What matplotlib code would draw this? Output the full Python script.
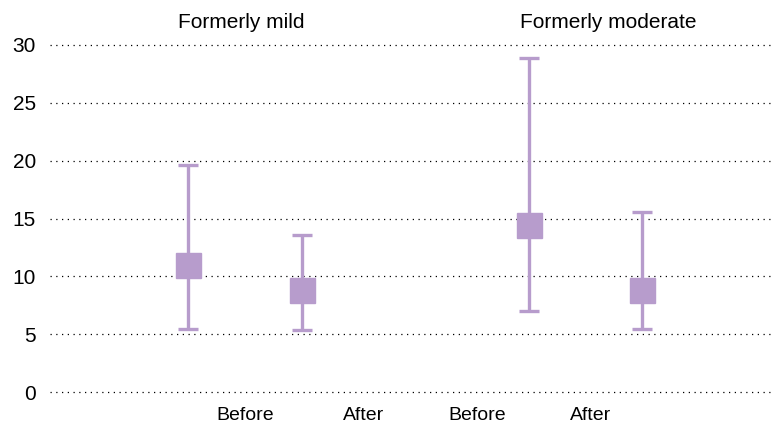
import matplotlib
matplotlib.use("Agg")
import matplotlib.pyplot as plt
import matplotlib.transforms as mtransforms

# ── data ──────────────────────────────────────────────────
groups = ["Formerly mild", "Formerly moderate"]
phases = ["Before", "After", "Before", "After"]
positions = [0, 1, 3, 4]           # slot of each point
means = [11.0, 8.8, 14.4, 8.8]
upper = [19.6, 13.6, 28.9, 15.6]
lower = [5.45, 5.4, 7.0, 5.45]
label_pos = [0.5, 1.55, 2.55, 3.55]
group_pos = [0.47, 3.7]
yticks = [0, 5, 10, 15, 20, 25, 30]

PURPLE = "#b79ccc"

plt.rcParams["font.family"] = ["Liberation Sans", "DejaVu Sans"]

fig = plt.figure(figsize=(7.72, 4.25), dpi=100)
ax = fig.add_axes([50 / 772, 1 - 392 / 425, 1 - 50 / 772, (392 - 45) / 425])

# dotted horizontal guides
for y in yticks:
    ax.axhline(y, color="black", lw=0.9, linestyle=(0, (1, 3.6)), zorder=1,
               clip_on=False)

yerr = [[m - lo for m, lo in zip(means, lower)],
        [hi - m for m, hi in zip(means, upper)]]
ax.errorbar(positions, means, yerr=yerr, fmt="s", color=PURPLE,
            markersize=18, elinewidth=2.4, capsize=7.5, capthick=2.4,
            zorder=3, clip_on=False)

ax.set_xlim(-1.216, 5.145)
ax.set_ylim(0, 30)

ax.set_yticks(yticks)
ax.set_yticklabels([str(v) for v in yticks], fontsize=15)
ax.set_xticks(label_pos)
ax.set_xticklabels(phases, fontsize=14)
ax.tick_params(axis="y", length=0, pad=10)
ax.tick_params(axis="x", length=0, pad=11)

for s in ax.spines.values():
    s.set_visible(False)

# group headings above the plot
trans = mtransforms.blended_transform_factory(ax.transData, fig.transFigure)
for name, gx in zip(groups, group_pos):
    ax.text(gx, 1 - 22 / 425, name, transform=trans, ha="center",
            va="center", fontsize=15)

fig.savefig("out.png", dpi=100)
